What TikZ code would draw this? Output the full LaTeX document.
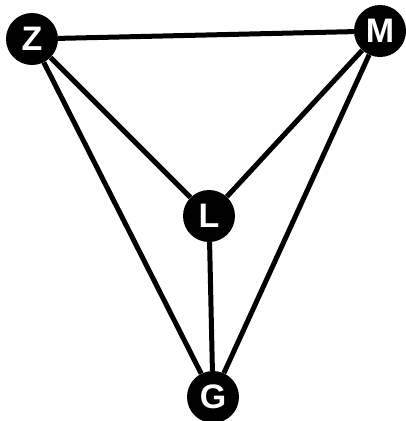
\documentclass[tikz,border=0pt]{standalone}
\usepackage{fontspec}
\setmainfont{Liberation Sans}
\begin{document}
\begin{tikzpicture}[x=1pt,y=-1pt,
  vertex/.style={circle,fill=black,minimum size=52pt,inner sep=0pt,text=white,font=\fontsize{34}{34}\selectfont\bfseries},
  edge/.style={line width=5pt,black}]
\useasboundingbox (0,0) rectangle (406,421);
\node[vertex] (Z) at (32,39) {Z};
\node[vertex] (M) at (380,31) {M};
\node[vertex] (L) at (209,216) {L};
\node[vertex] (G) at (213,397) {G};
\draw[edge] (Z) -- (M);
\draw[edge] (Z) -- (L);
\draw[edge] (Z) -- (G);
\draw[edge] (M) -- (L);
\draw[edge] (M) -- (G);
\draw[edge] (L) -- (G);
\end{tikzpicture}
\end{document}
